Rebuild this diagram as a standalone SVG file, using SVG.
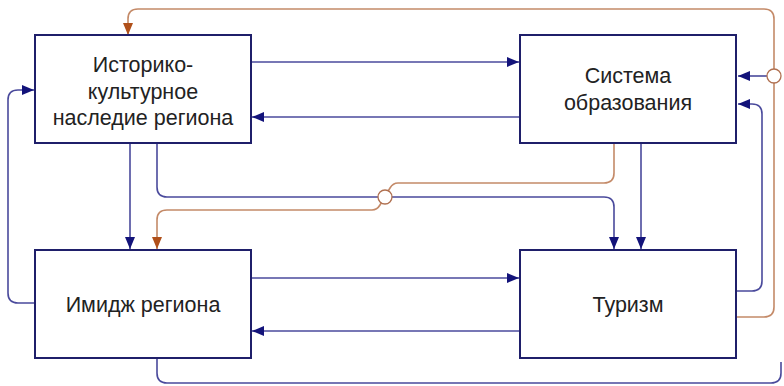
<svg xmlns="http://www.w3.org/2000/svg" width="784" height="386" viewBox="0 0 784 386">
<style>
.box{fill:#fff;stroke:#1f1f6a;stroke-width:2}
.t{font-family:"Liberation Sans",Arial,sans-serif;font-size:21.5px;fill:#222;text-anchor:middle}
.b{fill:none;stroke:#4a4a9c;stroke-width:1.6}
.o{fill:none;stroke:#c48a68;stroke-width:1.6}
.j{fill:#fff;stroke:#b07050;stroke-width:1.3}
</style>
<defs>
<marker id="ab" markerUnits="userSpaceOnUse" markerWidth="12" markerHeight="10" viewBox="0 0 12 10" refX="12" refY="5" orient="auto"><path d="M0,0 L12,5 L0,10 Z" fill="#13137a"/></marker>
<marker id="ao" markerUnits="userSpaceOnUse" markerWidth="12" markerHeight="10" viewBox="0 0 12 10" refX="12" refY="5" orient="auto"><path d="M0,0 L12,5 L0,10 Z" fill="#b0501a"/></marker>
</defs>
<g id="connectors">
<path class="b" d="M251,62 H519" marker-end="url(#ab)"/>
<path class="b" d="M520,117 H252" marker-end="url(#ab)"/>
<path class="b" d="M251,278 H519" marker-end="url(#ab)"/>
<path class="b" d="M520,331 H252" marker-end="url(#ab)"/>
<path class="b" d="M130,144 V249" marker-end="url(#ab)"/>
<path class="b" d="M157,144 V187 Q157,197 167,197 H604 Q614,197 614,207 V249" marker-end="url(#ab)"/>
<path class="b" d="M641,144 V249" marker-end="url(#ab)"/>
<path class="b" d="M736,291 H752 Q762,291 762,281 V114 Q762,104 752,104 H738" marker-end="url(#ab)"/>
<path class="b" d="M35,303 H18 Q8,303 8,293 V100 Q8,90 18,90 H34" marker-end="url(#ab)"/>
<path class="b" d="M157,359 V373 Q157,383 167,383 H771 Q781,383 781,373 V362"/>
<path class="o" d="M614,144 V173 Q614,183 604,183 H398 Q393,183 390,188 L380,205 Q377,210 372,210 H167 Q157,210 157,220 V249" marker-end="url(#ao)"/>
<path class="o" d="M736,317 H764 Q774,317 774,307 V19 Q774,9 764,9 H138 Q128,9 128,19 V35" marker-end="url(#ao)"/>
<path class="b" d="M767,76 H738" marker-end="url(#ab)"/>
<circle class="j" cx="385" cy="197" r="7"/>
<circle class="j" cx="774" cy="76" r="7"/>
</g>
<g id="n1"><rect class="box" x="35" y="35" width="216" height="108"/>
<text class="t" x="143" y="72">Историко-</text><text class="t" x="143" y="98.5">культурное</text><text class="t" x="143" y="125">наследие региона</text></g>
<g id="n2"><rect class="box" x="520" y="35" width="216" height="108"/>
<text class="t" x="628" y="83">Система</text><text class="t" x="628" y="110">образования</text></g>
<g id="n3"><rect class="box" x="35" y="250" width="216" height="108"/>
<text class="t" x="143" y="312">Имидж региона</text></g>
<g id="n4"><rect class="box" x="520" y="250" width="216" height="108"/>
<text class="t" x="628" y="312">Туризм</text></g>
</svg>
